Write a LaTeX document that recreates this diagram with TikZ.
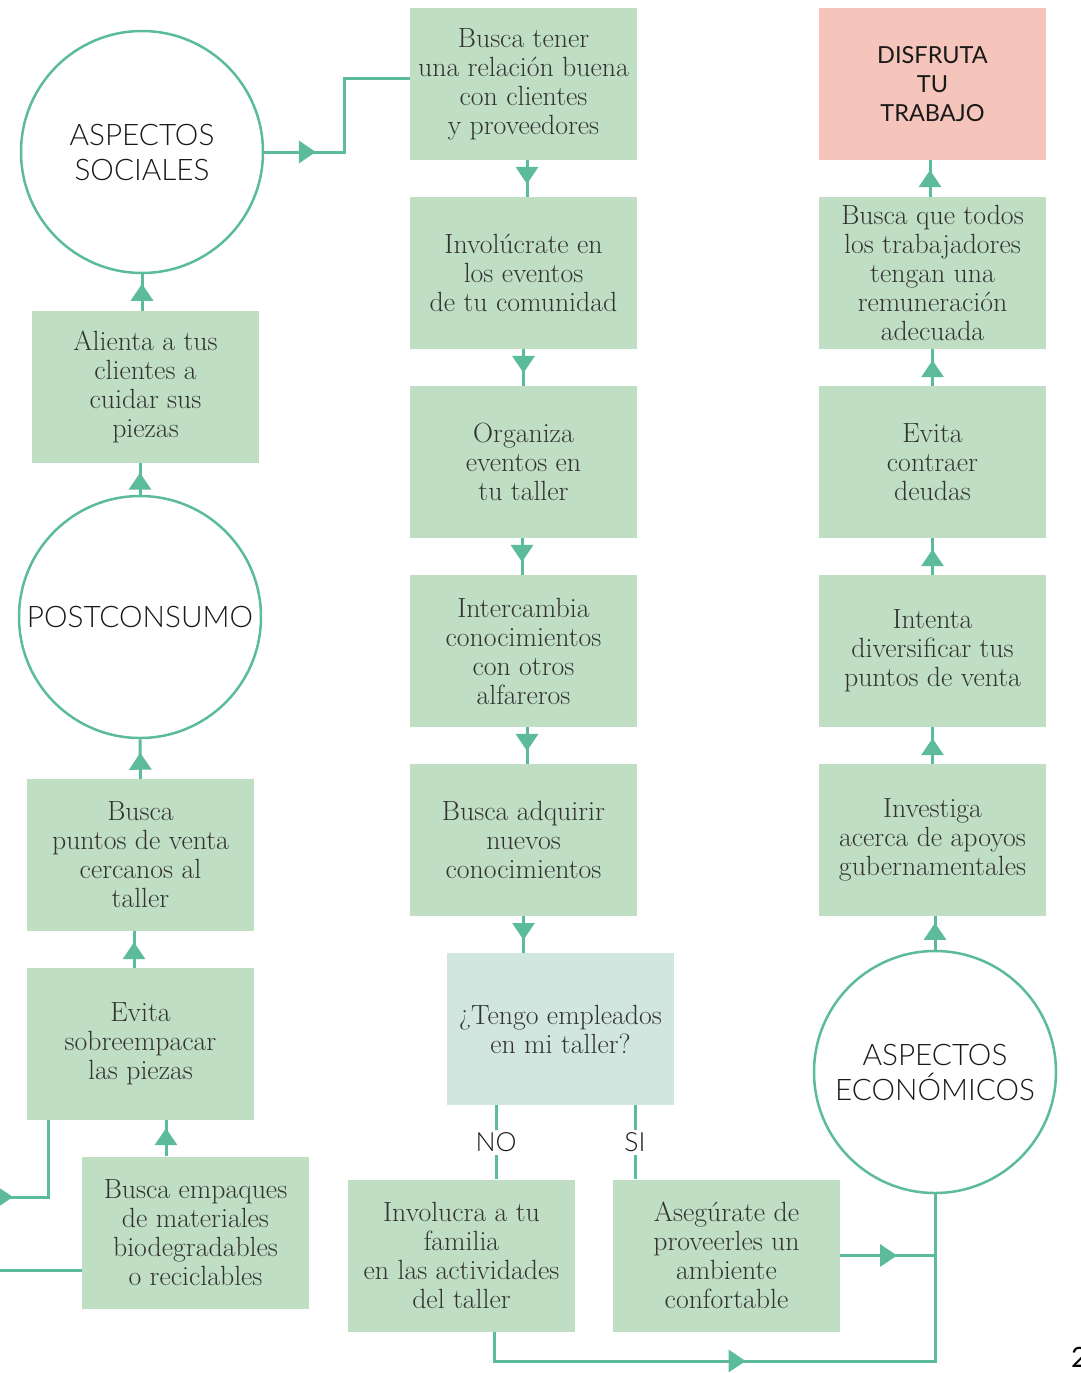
\documentclass[tikz,border=0pt]{standalone}
\usepackage{fontspec}
\usetikzlibrary{arrows.meta,decorations.markings,calc}
\newfontfamily\latolight{Lato Light}
\newfontfamily\latoreg{Lato}

\definecolor{lg}{HTML}{5BBB9B}
\definecolor{boxfill}{HTML}{BFDEC4}
\definecolor{qfill}{HTML}{D1E6DE}
\definecolor{goalfill}{HTML}{F5C5BB}
\definecolor{bodytext}{HTML}{333333}

\tikzset{
  stepbox/.style={rectangle, fill=boxfill, minimum width=227pt, minimum height=152pt,
    inner sep=0pt, align=center, text=bodytext, font=\fontsize{27.8}{29}\selectfont},
  goalbox/.style={stepbox, fill=goalfill, text=black!90, font=\latoreg\fontsize{23.5}{29}\selectfont},
  hub/.style={circle, draw=lg, line width=2.5pt, fill=white, minimum size=242pt,
    inner sep=0pt, align=center, text=black!90, font=\latolight\fontsize{29.7}{35}\selectfont},
  flow/.style={draw=lg, line width=3pt},
  tipat/.style={postaction={decorate}, decoration={markings,
    mark=at position #1 with {\arrow[lg]{Triangle[length=17pt,width=22pt]}}}},
  answer/.style={fill=white, inner sep=3pt, text=black!90, font=\latolight\fontsize{26.5}{28}\selectfont},
}

\begin{document}
\begin{tikzpicture}[x=1pt,y=-1pt]
\useasboundingbox (0,0) rectangle (1080,1373);

% hubs
\node[hub] (soc)  at (142,152)  {ASPECTOS\\SOCIALES};
\node[hub] (post) at (140,617)  {POSTCONSUMO};
\node[hub] (econ) at (935,1072) {ASPECTOS\\ECONÓMICOS};

% left column
\node[stepbox] (l1) at (145.5,387)   {Alienta a tus\\clientes a\\cuidar sus\\piezas};
\node[stepbox] (l2) at (140.5,855)   {Busca\\puntos de venta\\cercanos al\\taller};
\node[stepbox] (l3) at (140.5,1044)  {Evita\\sobreempacar\\las piezas};
\node[stepbox] (l4) at (195.5,1232.5){Busca empaques\\de materiales\\biodegradables\\o reciclables};

% middle column
\node[stepbox] (m1) at (523.5,84)  {Busca tener\\una relación buena\\con clientes\\y proveedores};
\node[stepbox] (m2) at (523.5,273) {Involúcrate en\\los eventos\\de tu comunidad};
\node[stepbox] (m3) at (523.5,462) {Organiza\\eventos en\\tu taller};
\node[stepbox] (m4) at (523.5,651) {Intercambia\\conocimientos\\con otros\\alfareros};
\node[stepbox] (m5) at (523.5,840) {Busca adquirir\\nuevos\\conocimientos};
\node[stepbox, fill=qfill] (q) at (560.5,1029) {¿Tengo empleados\\en mi taller?};
\node[stepbox] (no) at (461.5,1255.5) {Involucra a tu\\familia\\en las actividades\\del taller};
\node[stepbox] (si) at (726.5,1255.5) {Asegúrate de\\proveerles un\\ambiente\\confortable};

% right column
\node[goalbox] (r0) at (932.5,84)  {DISFRUTA\\TU\\TRABAJO};
\node[stepbox] (r1) at (932.5,273) {Busca que todos\\los trabajadores\\tengan una\\remuneración\\adecuada};
\node[stepbox] (r2) at (932.5,462) {Evita\\contraer\\deudas};
\node[stepbox] (r3) at (932.5,651) {Intenta\\diversificar tus\\puntos de venta};
\node[stepbox] (r4) at (932.5,840) {Investiga\\acerca de apoyos\\gubernamentales};

% page number
\node[anchor=north west, inner sep=0pt, font=\latoreg\fontsize{28}{30}\selectfont] (pg) at (1071,1347) {2};

% bend points and page-edge ends
\coordinate (sb1) at (344,152);
\coordinate (sb2) at (344,78);
\coordinate (inL) at (-6,1197);
\coordinate (inC) at (48,1197);
\coordinate (outL) at (-6,1270);
\coordinate (nb1) at (494,1361);
\coordinate (nb2) at (935,1361);

% social branch
\draw[flow, tipat=0.235] (soc.east) -- (sb1) -- (sb2) -- ($(m1.west)+(0,-6)$);
\draw[flow, tipat=0.65] ($(m1.south)+(3.5,0)$) -- ($(m2.north)+(3.5,0)$);
\draw[flow, tipat=0.65] (m2.south) -- (m3.north);
\draw[flow, tipat=0.65] ($(m3.south)+(-1.5,0)$) -- ($(m4.north)+(-1.5,0)$);
\draw[flow, tipat=0.65] ($(m4.south)+(3.5,0)$) -- ($(m5.north)+(3.5,0)$);
\draw[flow, tipat=0.65] (m5.south) -- (m5.south |- q.north);

% decision
\draw[flow] ($(q.south)+(-64.5,0)$) -- node[answer] (noLab) {NO} ($(no.north)+(34.5,0)$);
\draw[flow] ($(q.south)+(74.5,0)$) -- node[answer] (siLab) {SI} ($(si.north)+(-91.5,0)$);
\draw[flow, tipat=0.441] ($(no.south)+(32.5,0)$) -- (nb1) -- (nb2) -- (econ.south);
\draw[flow, tipat=0.6] (si.east) -- (si.east -| econ.south);

% economic branch
\draw[flow, tipat=0.8] (econ.north) -- (econ.north |- r4.south);
\draw[flow, tipat=0.7] (r4.north) -- (r3.south);
\draw[flow, tipat=0.7] (r3.north) -- (r2.south);
\draw[flow, tipat=0.7] (r2.north) -- (r1.south);
\draw[flow, tipat=0.73] ($(r1.north)+(-2.5,0)$) -- ($(r0.south)+(-2.5,0)$);

% post-consumption branch
\draw[flow, tipat=0.145] (inL) -- (inC) -- ($(l3.south)+(-92.5,0)$);
\draw[flow] ($(l4.west)+(0,37.5)$) -- (outL);
\draw[flow, tipat=0.78] ($(l4.north)+(-29.5,0)$) -- ($(l3.south)+(25.5,0)$);
\draw[flow, tipat=0.7] ($(l3.north)+(-6.5,0)$) -- ($(l2.south)+(-6.5,0)$);
\draw[flow, tipat=0.66] (l2.north) -- (post.south);
\draw[flow, tipat=0.7] (post.north) -- (post.north |- l1.south);
\draw[flow, tipat=0.74] (soc.south |- l1.north) -- (soc.south);

\end{tikzpicture}
\end{document}
